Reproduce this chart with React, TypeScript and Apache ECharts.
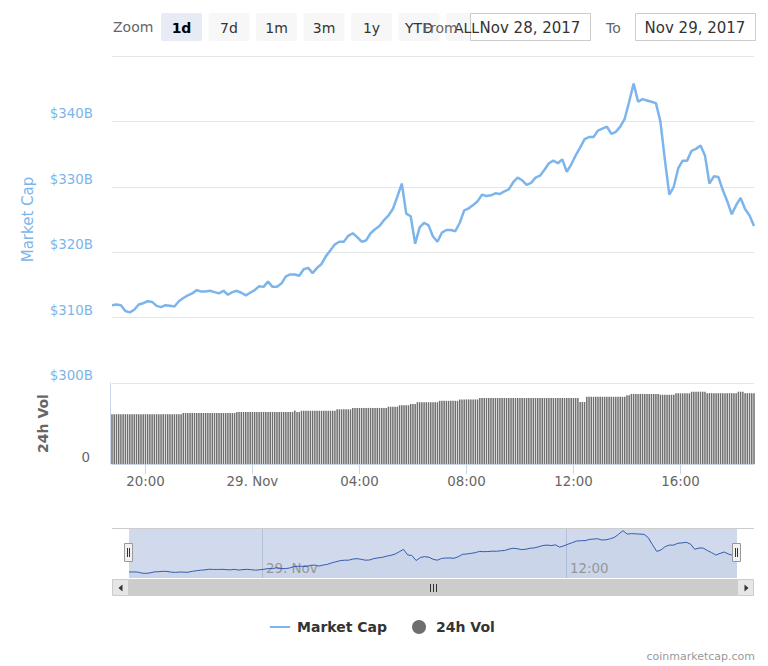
import React, { useEffect, useRef } from 'react';
import * as echarts from 'echarts';

// Market cap, $B, every 10 minutes from 28 Nov 2017 18:45 (UTC) to 29 Nov 18:45
const marketCap = [
  311.9, 312.0, 311.9, 311.0, 310.8, 311.2, 312.0, 312.2, 312.5, 312.4,
  311.8, 311.6, 311.9, 311.8, 311.7, 312.5, 313.0, 313.4, 313.7, 314.2,
  314.0, 314.0, 314.1, 313.9, 313.7, 314.1, 313.5, 313.9, 314.1, 313.8,
  313.4, 313.8, 314.2, 314.8, 314.7, 315.5, 314.7, 314.7, 315.2, 316.3,
  316.6, 316.6, 316.4, 317.4, 317.6, 316.8, 317.6, 318.2, 319.4, 320.3,
  321.2, 321.6, 321.6, 322.5, 322.9, 322.3, 321.6, 321.8, 322.9, 323.5,
  324.0, 324.9, 325.6, 326.6, 328.5, 330.5, 325.9, 325.5, 321.3, 323.8,
  324.5, 324.1, 322.4, 321.6, 323.0, 323.4, 323.4, 323.2, 324.5, 326.4,
  326.7, 327.2, 327.8, 328.8, 328.6, 328.7, 329.0, 328.9, 329.3, 329.6,
  330.7, 331.4, 331.0, 330.3, 330.6, 331.4, 331.7, 332.6, 333.6, 334.0,
  333.6, 334.2, 332.3, 333.4, 334.8, 336.0, 337.3, 337.6, 337.6, 338.6,
  338.9, 339.2, 338.1, 338.4, 339.2, 340.4, 343.0, 345.8, 343.0, 343.4,
  343.2, 343.0, 342.8, 340.0, 334.2, 328.8, 330.0, 332.8, 334.0, 334.0,
  335.5, 335.8, 336.3, 334.8, 330.5, 331.6, 331.5, 329.5, 327.8, 325.8,
  327.2, 328.3, 326.6, 325.6, 324.0,
];

// 24h volume, $B, every 5 minutes over the same day
const volume24h = [
  12.3, 12.3, 12.3, 12.3, 12.3, 12.3, 12.3, 12.3,
  12.3, 12.3, 12.3, 12.3, 12.3, 12.3, 12.3, 12.3,
  12.3, 12.3, 12.3, 12.3, 12.3, 12.3, 12.3, 12.3,
  12.3, 12.3, 12.3, 12.3, 12.3, 12.3, 12.3, 12.3,
  12.6, 12.6, 12.6, 12.6, 12.6, 12.6, 12.6, 12.6,
  12.6, 12.6, 12.6, 12.6, 12.6, 12.6, 12.6, 12.6,
  12.6, 12.6, 12.6, 12.6, 12.6, 12.6, 12.6, 12.6,
  12.85, 12.85, 12.85, 12.85, 12.85, 12.85, 12.85, 12.85,
  12.85, 12.85, 12.85, 12.85, 12.85, 12.85, 12.85, 12.85,
  12.85, 12.85, 12.85, 12.85, 12.85, 12.85, 12.85, 12.85,
  12.85, 12.85,
  13.2, 12.85, 12.85,
  13.15, 13.15, 13.15, 13.15, 13.15, 13.15, 13.15, 13.15,
  13.15, 13.15, 13.15, 13.15, 13.15, 13.15, 13.15, 13.15,
  13.5, 13.5, 13.5, 13.5, 13.5, 13.5, 13.5,
  13.85, 13.85, 13.85, 13.85, 13.85, 13.85, 13.85, 13.85,
  13.85, 13.85, 13.85, 13.85, 13.85, 13.85, 13.85, 13.85,
  14.15, 14.15, 14.15, 14.15, 14.15,
  14.5, 14.5, 14.5, 14.5, 14.5,
  14.8, 14.8, 14.8,
  15.25, 15.25, 15.25, 15.25, 15.25, 15.25, 15.25, 15.25, 15.25, 15.25,
  15.6, 15.6, 15.6, 15.6, 15.6, 15.6, 15.6, 15.6, 15.6,
  15.95, 15.95, 15.95, 15.95, 15.95, 15.95, 15.95, 15.95, 15.95,
  16.3, 16.3, 16.3, 16.3, 16.3, 16.3, 16.3, 16.3, 16.3,
  16.3, 16.3, 16.3, 16.3, 16.3, 16.3, 16.3, 16.3, 16.3,
  16.3, 16.3, 16.3, 16.3, 16.3, 16.3, 16.3, 16.3, 16.3,
  16.3, 16.3, 16.3, 16.3, 16.3, 16.3, 16.3, 16.3, 16.3,
  16.3, 16.3, 16.3, 16.3, 16.3, 16.3, 16.3, 16.3, 16.3,
  15.3, 15.3, 15.3,
  16.6, 16.6, 16.6, 16.6, 16.6, 16.6, 16.6, 16.6, 16.6,
  16.6, 16.6, 16.6, 16.6, 16.6, 16.6, 16.6, 16.6, 16.6,
  16.95, 16.95,
  17.3, 17.3, 17.3, 17.3, 17.3, 17.3, 17.3, 17.3, 17.3, 17.3, 17.3, 17.3, 17.3,
  17.1, 17.1, 17.1, 17.1, 17.1, 17.1, 17.1,
  17.45, 17.45, 17.45, 17.45, 17.45, 17.45, 17.45,
  17.85, 17.85, 17.85, 17.85, 17.85, 17.85, 17.85,
  17.5, 17.5, 17.5, 17.5, 17.5, 17.5, 17.5, 17.5, 17.5, 17.5, 17.5, 17.5, 17.5, 17.5,
  17.85, 17.85, 17.85,
  17.5, 17.5, 17.5, 17.5, 17.5,
];

const mainTickTimes = [
  '2017-11-28T20:00:00Z', '2017-11-29T00:00:00Z', '2017-11-29T04:00:00Z',
  '2017-11-29T08:00:00Z', '2017-11-29T12:00:00Z', '2017-11-29T16:00:00Z',
];
const navTickTimes = ['2017-11-29T00:00:00Z', '2017-11-29T12:00:00Z'];
const zoomButtons = ['1d', '7d', '1m', '3m', '1y', 'YTD', 'ALL'];
const fromDate = 'Nov 28, 2017';
const toDate = 'Nov 29, 2017';

const START = Date.UTC(2017, 10, 28, 18, 45);
const END = START + 24 * 3600 * 1000;
const STEP = 10 * 60 * 1000;

const FONT = 'DejaVu Sans';

function timeLabel(v: number): string {
  const d = new Date(v);
  const h = d.getUTCHours();
  if (h === 0) return d.getUTCDate() + '. Nov';
  return (h < 10 ? '0' : '') + h + ':00';
}

export default function App() {
  const ref = useRef<HTMLDivElement>(null);

  useEffect(() => {
    document.body.style.margin = '0';
    if (!ref.current) return;
    const chart = echarts.init(ref.current, undefined, { renderer: 'svg' });

    const capData = marketCap.map((v, i) => [START + i * STEP, v]);
    const volData = volume24h.map((v, i) => [START + (i * STEP) / 2, v]);
    const mainTicks = mainTickTimes.map((s) => Date.parse(s));
    const navTicks = navTickTimes.map((s) => Date.parse(s));

    const btnX = [161, 208.5, 256, 303.5, 351, 398.5, 446];
    const graphics: any[] = [];
    graphics.push({
      type: 'text', x: 113, y: 27, z: 100,
      style: { text: 'Zoom', fill: '#666', font: `14px "${FONT}"`, verticalAlign: 'middle' },
    });
    zoomButtons.forEach((b, k) => {
      graphics.push({
        type: 'rect', z: 100,
        shape: { x: btnX[k], y: 13, width: 41, height: 28, r: 2 },
        style: { fill: k === 0 ? '#e6ebf5' : '#f7f7f7' },
      });
    });
    graphics.push({
      type: 'rect', z: 101,
      shape: { x: 470.5, y: 13.5, width: 120, height: 27 },
      style: { fill: '#fff', stroke: '#cccccc', lineWidth: 1 },
    });
    graphics.push({
      type: 'rect', z: 101,
      shape: { x: 635.5, y: 13.5, width: 120, height: 27 },
      style: { fill: '#fff', stroke: '#cccccc', lineWidth: 1 },
    });
    zoomButtons.forEach((b, k) => {
      graphics.push({
        type: 'text', z: 102, x: btnX[k] + 20.5, y: 27.5,
        style: {
          text: b, fill: k === 0 ? '#000' : '#333',
          font: `${k === 0 ? 'bold ' : ''}14px "${FONT}"`,
          align: 'center', verticalAlign: 'middle',
        },
      });
    });
    graphics.push({
      type: 'text', z: 102, x: 423, y: 27.5,
      style: { text: 'From', fill: '#666', font: `14px "${FONT}"`, verticalAlign: 'middle' },
    });
    graphics.push({
      type: 'text', z: 102, x: 606, y: 27.5,
      style: { text: 'To', fill: '#666', font: `14px "${FONT}"`, verticalAlign: 'middle' },
    });
    graphics.push({
      type: 'text', z: 102, x: 530, y: 27.5,
      style: { text: fromDate, fill: '#333', font: `15px "${FONT}"`, align: 'center', verticalAlign: 'middle' },
    });
    graphics.push({
      type: 'text', z: 102, x: 695, y: 27.5,
      style: { text: toDate, fill: '#333', font: `15px "${FONT}"`, align: 'center', verticalAlign: 'middle' },
    });

    graphics.push({
      type: 'line', z: 100,
      shape: { x1: 112, y1: 528.5, x2: 754, y2: 528.5 },
      style: { stroke: '#cccccc', lineWidth: 1 },
    });
    [129, 737].forEach((hx) => {
      graphics.push({
        type: 'rect', z: 110,
        shape: { x: hx - 4.5, y: 543.5, width: 8, height: 18 },
        style: { fill: '#f2f2f2', stroke: '#999999', lineWidth: 1 },
      });
      graphics.push({
        type: 'line', z: 111,
        shape: { x1: hx - 1.5, y1: 548, x2: hx - 1.5, y2: 557 },
        style: { stroke: '#333', lineWidth: 1 },
      });
      graphics.push({
        type: 'line', z: 111,
        shape: { x1: hx + 0.5, y1: 548, x2: hx + 0.5, y2: 557 },
        style: { stroke: '#333', lineWidth: 1 },
      });
    });
    graphics.push({
      type: 'rect', z: 100,
      shape: { x: 112, y: 579, width: 642, height: 17 },
      style: { fill: '#f2f2f2' },
    });
    graphics.push({
      type: 'rect', z: 101,
      shape: { x: 129, y: 579, width: 608, height: 17 },
      style: { fill: '#cccccc' },
    });
    [112.5, 737.5].forEach((bx) => {
      graphics.push({
        type: 'rect', z: 101,
        shape: { x: bx, y: 579.5, width: 16, height: 16 },
        style: { fill: '#e6e6e6', stroke: '#cccccc', lineWidth: 1 },
      });
    });
    graphics.push({
      type: 'polygon', z: 102,
      shape: { points: [[122.5, 584.5], [122.5, 591.5], [118.5, 588]] },
      style: { fill: '#333' },
    });
    graphics.push({
      type: 'polygon', z: 102,
      shape: { points: [[744.5, 584.5], [744.5, 591.5], [748.5, 588]] },
      style: { fill: '#333' },
    });
    [430.5, 433.5, 436.5].forEach((gx) => {
      graphics.push({
        type: 'line', z: 102,
        shape: { x1: gx, y1: 584, x2: gx, y2: 592 },
        style: { stroke: '#333', lineWidth: 1 },
      });
    });
    graphics.push({
      type: 'text', z: 100, x: 755, y: 656,
      style: {
        text: 'coinmarketcap.com', fill: '#999', font: `11px "${FONT}"`,
        align: 'right', verticalAlign: 'middle',
      },
    });

    const option: any = {
      animation: false,
      backgroundColor: '#fff',
      textStyle: { fontFamily: FONT },
      grid: [
        { left: 112, width: 642, top: 56, height: 327 },
        { left: 112, width: 642, top: 383, height: 81 },
        {
          left: 129, width: 608, top: 528, height: 50, show: true,
          backgroundColor: 'rgba(102,133,194,0.3)', borderWidth: 0,
        },
      ],
      legend: {
        left: 270, top: 620, padding: 0, itemGap: 25,
        itemWidth: 20, itemHeight: 14,
        data: [
          { name: 'Market Cap', icon: 'path://M0,6 L20,6 L20,8 L0,8 Z' },
          { name: '24h Vol', icon: 'circle' },
        ],
        textStyle: {
          fontFamily: FONT, fontSize: 14, fontWeight: 'bold', color: '#333',
          padding: [0, 0, 0, 2],
        },
      },
      xAxis: [
        {
          type: 'value', gridIndex: 0, min: START, max: END,
          axisLine: { show: false }, axisTick: { show: false },
          axisLabel: { show: false }, splitLine: { show: false },
        },
        {
          type: 'value', gridIndex: 1, min: START, max: END,
          axisLine: { show: true, onZero: false, lineStyle: { color: '#ccd6eb', width: 1 } },
          axisTick: {
            show: true, length: 10, customValues: mainTicks,
            lineStyle: { color: '#ccd6eb', width: 1 },
          },
          axisLabel: {
            show: true, customValues: mainTicks, margin: 11,
            color: '#666', fontSize: 13.4, fontFamily: FONT, lineHeight: 13,
            formatter: (v: number) => timeLabel(v),
          },
          splitLine: { show: false },
        },
        {
          type: 'value', gridIndex: 2, min: START, max: END,
          axisLine: { show: false, onZero: false },
          axisTick: {
            show: true, inside: true, length: 50, customValues: navTicks,
            lineStyle: { color: '#b4bfd8', width: 1 },
          },
          axisLabel: {
            show: true, inside: true, customValues: navTicks, margin: 3,
            align: 'left', padding: [0, 0, 0, 4],
            color: '#999', fontSize: 13.4, fontFamily: FONT,
            formatter: (v: number) => timeLabel(v),
          },
          splitLine: { show: false },
        },
      ],
      yAxis: [
        {
          type: 'value', gridIndex: 0, min: 300, max: 350, interval: 10,
          name: 'Market Cap', nameLocation: 'middle', nameGap: 77,
          nameTextStyle: { color: '#7cb5ec', fontSize: 15, fontFamily: FONT },
          axisLine: { show: false }, axisTick: { show: false },
          axisLabel: {
            color: '#7cb5ec', fontSize: 13.4, fontFamily: FONT, margin: 19,
            verticalAlign: 'bottom', lineHeight: 13, padding: [0, 0, 1, 0],
            showMaxLabel: false,
            formatter: (v: number) => '$' + v + 'B',
          },
          splitLine: { show: true, lineStyle: { color: '#e6e6e6', width: 1 } },
        },
        {
          type: 'value', gridIndex: 1, min: 0, max: 20, interval: 20, offset: 2,
          name: '24h Vol', nameLocation: 'middle', nameGap: 60,
          nameTextStyle: { color: '#666', fontSize: 14, fontWeight: 'bold', fontFamily: FONT },
          axisLine: { show: true, lineStyle: { color: '#ccd6eb', width: 1 } },
          axisTick: { show: false },
          axisLabel: {
            color: '#666', fontSize: 13.4, fontFamily: FONT, margin: 20,
            verticalAlign: 'bottom', lineHeight: 13, padding: [0, 0, 0, 0],
            formatter: (v: number) => (v === 0 ? '0' : ''),
          },
          splitLine: { show: false },
        },
        {
          type: 'value', gridIndex: 2, min: 307, max: 348,
          show: false,
        },
      ],
      series: [
        {
          name: 'Market Cap', type: 'line', xAxisIndex: 0, yAxisIndex: 0,
          data: capData, symbol: 'none', showSymbol: false,
          lineStyle: { color: '#7cb5ec', width: 2.5 },
          itemStyle: { color: '#7cb5ec' },
          z: 3,
        },
        {
          name: '24h Vol', type: 'bar', xAxisIndex: 1, yAxisIndex: 1,
          data: volData, barWidth: 1.5,
          itemStyle: { color: '#6e6e6e' },
        },
        {
          name: 'Navigator', type: 'line', xAxisIndex: 2, yAxisIndex: 2,
          data: capData, symbol: 'none', showSymbol: false,
          lineStyle: { color: '#335cad', width: 1 },
          areaStyle: { color: 'rgba(51,92,173,0.05)' },
        },
      ],
      graphic: graphics,
    };

    chart.setOption(option);
    return () => chart.dispose();
  }, []);

  return <div ref={ref} style={{ width: 768, height: 666 }} />;
}
